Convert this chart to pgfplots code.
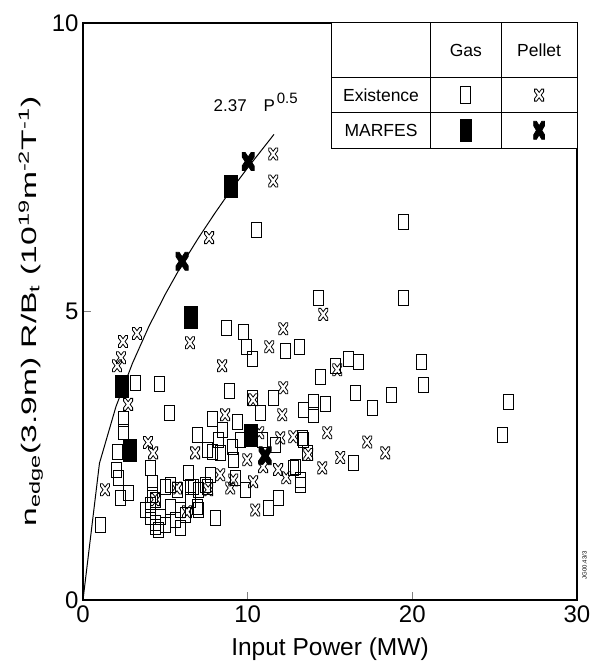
\documentclass[border=0pt]{standalone}
\usepackage{pgfplots}
\pgfplotsset{compat=1.18}
\usepackage{fontspec}
\setmainfont{Liberation Sans}
\pgfdeclareplotmark{orect}{\pgfpathrectangle{\pgfpoint{-5pt}{-7.5pt}}{\pgfpoint{10pt}{15pt}}\pgfusepathqstroke}
\pgfdeclareplotmark{frect}{\pgfpathrectangle{\pgfpoint{-6.5pt}{-11pt}}{\pgfpoint{13pt}{22pt}}\pgfusepathqfillstroke}
\pgfdeclareplotmark{ocross}{%
\pgfpathmoveto{\pgfpoint{0pt}{2.7pt}}%
\pgfpathlineto{\pgfpoint{2.475pt}{6pt}}\pgfpathlineto{\pgfpoint{4.5pt}{6pt}}\pgfpathlineto{\pgfpoint{4.5pt}{3.3pt}}%
\pgfpathlineto{\pgfpoint{2.025pt}{0pt}}%
\pgfpathlineto{\pgfpoint{4.5pt}{-3.3pt}}\pgfpathlineto{\pgfpoint{4.5pt}{-6pt}}\pgfpathlineto{\pgfpoint{2.475pt}{-6pt}}%
\pgfpathlineto{\pgfpoint{0pt}{-2.7pt}}%
\pgfpathlineto{\pgfpoint{-2.475pt}{-6pt}}\pgfpathlineto{\pgfpoint{-4.5pt}{-6pt}}\pgfpathlineto{\pgfpoint{-4.5pt}{-3.3pt}}%
\pgfpathlineto{\pgfpoint{-2.025pt}{0pt}}%
\pgfpathlineto{\pgfpoint{-4.5pt}{3.3pt}}\pgfpathlineto{\pgfpoint{-4.5pt}{6pt}}\pgfpathlineto{\pgfpoint{-2.475pt}{6pt}}%
\pgfpathclose\pgfusepathqstroke}
\pgfdeclareplotmark{fcross}{%
\pgfpathmoveto{\pgfpoint{0pt}{4.5pt}}%
\pgfpathlineto{\pgfpoint{3pt}{9pt}}\pgfpathlineto{\pgfpoint{6pt}{9pt}}\pgfpathlineto{\pgfpoint{6pt}{4.5pt}}%
\pgfpathlineto{\pgfpoint{3pt}{0pt}}%
\pgfpathlineto{\pgfpoint{6pt}{-4.5pt}}\pgfpathlineto{\pgfpoint{6pt}{-9pt}}\pgfpathlineto{\pgfpoint{3pt}{-9pt}}%
\pgfpathlineto{\pgfpoint{0pt}{-4.5pt}}%
\pgfpathlineto{\pgfpoint{-3pt}{-9pt}}\pgfpathlineto{\pgfpoint{-6pt}{-9pt}}\pgfpathlineto{\pgfpoint{-6pt}{-4.5pt}}%
\pgfpathlineto{\pgfpoint{-3pt}{0pt}}%
\pgfpathlineto{\pgfpoint{-6pt}{4.5pt}}\pgfpathlineto{\pgfpoint{-6pt}{9pt}}\pgfpathlineto{\pgfpoint{-3pt}{9pt}}%
\pgfpathclose\pgfusepathqfillstroke}
\begin{document}
\begin{tikzpicture}
\begin{axis}[
  scale only axis, width=494pt, height=577pt,
  xmin=0, xmax=30, ymin=0, ymax=10,
  xtick={0,10,20,30}, ytick={0,5,10},
  tick pos=left, tick align=inside, major tick length=8pt,
  tick style={line width=1pt},
  axis line style={line width=1.2pt},
  /pgf/number format/assume math mode=true,
  ticklabel style={font=\fontsize{24}{24}\selectfont},
  xticklabel style={yshift=-2pt},
  yticklabel style={xshift=-1pt},
  xlabel={Input Power (MW)},
  ylabel={\scalebox{1.6}[1]{n\textsubscript{edge}(3.9m) R/B\textsubscript{t} (10\textsuperscript{19}m\textsuperscript{-2}T\textsuperscript{-1})}},
  xlabel style={font=\fontsize{24.5}{24.5}\selectfont, yshift=-8pt},
  ylabel style={font=\fontsize{21}{21}\selectfont, yshift=2pt},
  clip=false,
]
\coordinate (ll) at (rel axis cs:0,0);
\coordinate (ur) at (rel axis cs:1,1);
% fit line 2.37 P^0.5
\addplot[black, line width=1pt] coordinates {(0,0)(1,2.37)(2,3.35)(3,4.10)(4,4.74)(5,5.30)(6,5.81)(7,6.27)(8,6.70)(9,7.11)(10,7.49)(11.6,8.07)};
% Gas existence
\addplot[only marks, mark=orect, black, line width=0.8pt] coordinates {
(10.52,6.41)(19.45,6.55)(14.29,5.23)(19.45,5.23)(8.69,4.72)(9.73,4.65)(9.91,4.38)(10.27,4.17)
(12.28,4.31)(13.13,4.39)(3.16,3.77)(4.62,3.75)(5.23,3.25)(2.43,3.14)(2.43,2.92)(8.88,3.63)
(10.27,3.51)(11.55,3.51)(10.76,3.25)(13.37,3.30)(7.84,3.13)(9.36,3.09)(14.41,3.87)(16.11,4.17)
(16.72,4.13)(15.32,4.05)(20.55,4.13)(20.67,3.72)(16.53,3.59)(18.72,3.56)(17.57,3.33)(13.98,3.44)
(13.98,3.21)(14.71,3.39)(13.31,2.81)(25.84,3.44)(25.47,2.86)(16.41,2.38)(8.45,2.95)(6.93,2.86)
(13.37,2.78)(7.54,2.60)(2.07,2.57)(2.01,2.26)(2.13,2.12)(2.25,1.77)(2.74,1.86)(1.03,1.30)
(4.07,2.29)(4.19,2.03)(4.19,1.82)(4.98,1.96)(5.29,2.00)(5.71,1.91)(6.50,1.96)(6.99,1.91)
(7.42,2.00)(4.07,1.44)(4.38,1.34)(4.68,1.44)(5.29,1.61)(5.90,1.56)(6.93,1.61)(6.50,1.74)
(6.99,1.56)(4.38,1.27)(5.90,1.25)(8.02,1.42)(6.38,2.20)(7.54,1.96)(6.69,1.96)(11.85,1.77)
(11.25,1.60)(9.12,2.43)(9.06,2.66)(7.84,2.57)(8.33,2.55)(12.77,2.29)(13.19,2.08)(13.62,2.55)
(12.89,2.31)(13.19,2.00)(4.07,1.65)(4.56,1.22)(4.98,1.30)(6.20,1.48)(5.59,1.39)(3.77,1.56)
(9.54,2.78)(8.21,2.78)(10.88,2.78)(11.67,2.69)(4.38,1.74)(7.72,2.17)(9.24,2.12)(9.85,1.91)
};
% Pellet existence
\addplot[only marks, mark=ocross, black, line width=0.8pt] coordinates {
(11.55,7.73)(11.55,7.26)(7.66,6.28)(3.28,4.62)(2.43,4.48)(2.31,4.20)(2.07,4.06)(6.50,4.46)
(2.74,3.39)(8.45,4.06)(11.31,4.39)(12.16,4.70)(12.16,3.68)(12.10,3.21)(8.63,3.21)(14.59,4.95)
(15.44,3.99)(14.83,2.90)(17.26,2.74)(18.36,2.55)(15.62,2.47)(12.77,2.83)(11.98,2.81)(13.68,2.52)
(14.53,2.29)(11.85,2.26)(12.34,2.12)(10.46,1.56)(8.33,2.17)(9.12,2.08)(8.94,1.94)(10.33,2.05)
(7.60,1.91)(1.34,1.91)(3.95,2.73)(4.26,2.55)(4.38,1.74)(6.81,2.55)(9.97,2.43)(10.94,2.31)
(10.70,2.90)(6.32,1.53)(5.71,1.94)(10.33,3.47)
};
% Gas MARFES
\addplot[only marks, mark=frect, black, line width=0.8pt] coordinates {
(2.37,3.70)(2.86,2.60)(6.57,4.90)(9.00,7.17)(10.21,2.85)
};
% Pellet MARFES
\addplot[only marks, mark=fcross, black, line width=0.8pt] coordinates {
(10.03,7.60)(6.02,5.87)(11.06,2.50)
};
% fit annotation
\node[anchor=base west, font=\fontsize{17}{17}\selectfont] at (axis cs:7.72,8.47) {2.37\hspace{1em}P\hspace{0.1em}\raisebox{0.45em}{\fontsize{15}{15}\selectfont 0.5}};
% legend table
\draw[line width=1pt, fill=white] (axis cs:15.08,10) rectangle (axis cs:30,7.83);
\draw[line width=1pt] (axis cs:15.08,9.05) -- (axis cs:30,9.05);
\draw[line width=1pt] (axis cs:15.08,8.45) -- (axis cs:30,8.45);
\draw[line width=1pt] (axis cs:21.1,10) -- (axis cs:21.1,7.83);
\draw[line width=1pt] (axis cs:25.4,10) -- (axis cs:25.4,7.83);
\node[font=\fontsize{17.5}{17.5}\selectfont] at (axis cs:23.25,9.52) {Gas};
\node[font=\fontsize{17.5}{17.5}\selectfont] at (axis cs:27.7,9.52) {Pellet};
\node[font=\fontsize{17.5}{17.5}\selectfont] at (axis cs:18.1,8.75) {Existence};
\node[font=\fontsize{17.5}{17.5}\selectfont] at (axis cs:18.1,8.14) {MARFES};
\addplot[forget plot, only marks, mark=orect, black, line width=0.8pt, mark options={yscale=1.15}] coordinates {(23.25,8.75)};
\addplot[forget plot, only marks, mark=ocross, black, line width=0.8pt] coordinates {(27.7,8.75)};
\addplot[forget plot, only marks, mark=frect, black, line width=0.8pt, mark options={xscale=0.9}] coordinates {(23.25,8.14)};
\addplot[forget plot, only marks, mark=fcross, black, line width=0.8pt, mark options={xscale=0.9}] coordinates {(27.7,8.14)};
\node[rotate=90, anchor=north, font=\fontsize{6}{6}\selectfont] at (axis cs:30.1,0.6) {JG00.43/3};
\end{axis}
\pgfresetboundingbox
\path ([shift={(-83pt,-66pt)}]ll) rectangle ([shift={(12pt,23pt)}]ur);
\end{tikzpicture}
\end{document}
